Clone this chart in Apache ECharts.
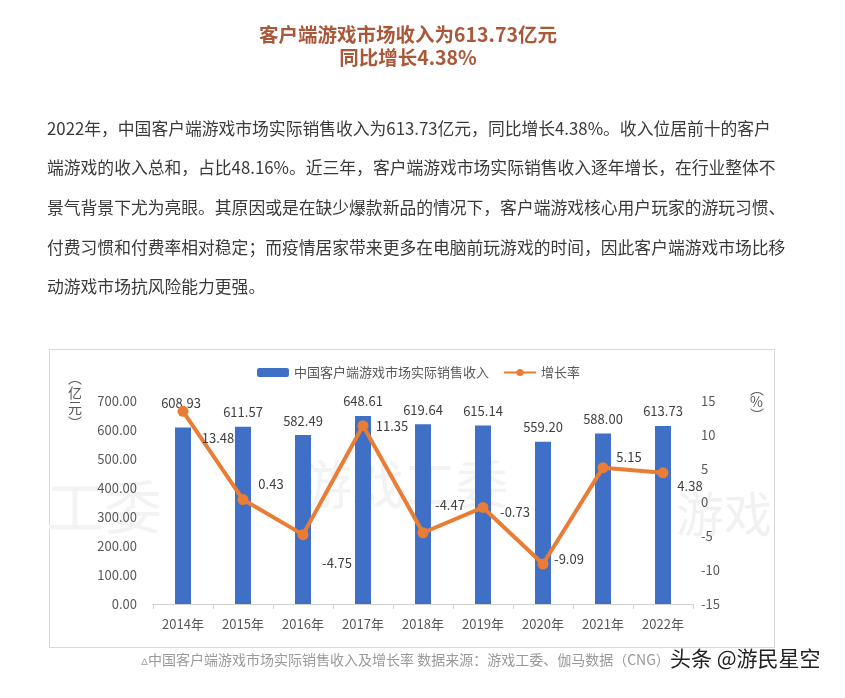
<!DOCTYPE html>
<html>
<head>
<meta charset="utf-8">
<script src="https://cdn.jsdelivr.net/npm/echarts@6/dist/echarts.min.js"></script>
<style>
  html, body { margin: 0; padding: 0; background: #fff; }
  #main { width: 845px; height: 698px; }
</style>
</head>
<body>
<div id="main"></div>
<script>
// data
const years = ['2014年', '2015年', '2016年', '2017年', '2018年', '2019年', '2020年', '2021年', '2022年']
const revenue = [608.93, 611.57, 582.49, 648.61, 619.64, 615.14, 559.20, 588.00, 613.73]
const growth = [13.48, 0.43, -4.75, 11.35, -4.47, -0.73, -9.09, 5.15, 4.38]
const leftTicks = [0, 100, 200, 300, 400, 500, 600, 700]
const rightTicks = [-15, -10, -5, 0, 5, 10, 15]

const titleLines = ['客户端游戏市场收入为613.73亿元', '同比增长4.38%']
const paragraph = [
  '2022年，中国客户端游戏市场实际销售收入为613.73亿元，同比增长4.38%。收入位居前十的客户',
  '端游戏的收入总和，占比48.16%。近三年，客户端游戏市场实际销售收入逐年增长，在行业整体不',
  '景气背景下尤为亮眼。其原因或是在缺少爆款新品的情况下，客户端游戏核心用户玩家的游玩习惯、',
  '付费习惯和付费率相对稳定；而疫情居家带来更多在电脑前玩游戏的时间，因此客户端游戏市场比移',
  '动游戏市场抗风险能力更强。'
]
const caption = '▵中国客户端游戏市场实际销售收入及增长率 数据来源：游戏工委、伽马数据（CNG）'
const signature = '头条 @游民星空'

// label offsets for the growth line (style only)
const rateLabelOffset = [[35, 27], [28, -16], [34, 28], [29, 0], [27, -28], [32, 5], [26, -5], [26, -11], [27, 13]]

const FONT = '"Noto Sans CJK SC", "Noto Sans", sans-serif'
const BLUE = '#3f70c6'
const ORANGE = '#ea7d35'

let graphics = []
titleLines.forEach((t, i) => {
  graphics.push({
    type: 'text', x: 408, y: 25 + i * 23,
    style: { text: t, font: 'bold 19.5px ' + FONT, fill: '#a9593a', textAlign: 'center' }
  })
})
paragraph.forEach((t, i) => {
  graphics.push({
    type: 'text', left: 47, top: 120 + i * 39.6,
    style: { text: t, font: '16.8px ' + FONT, fill: '#3a3a3a' }
  })
})
// chart frame
graphics.push({
  type: 'rect', left: 47, top: 347, z: 0,
  shape: { width: 725, height: 298 },
  style: { fill: 'none', stroke: '#d9d9d9', lineWidth: 1 }
})
// faint watermark
graphics.push(
  { type: 'text', left: 46, top: 478, z: 0, style: { text: '工委', font: '58px ' + FONT, fill: '#f3f3f3' } },
  { type: 'text', left: 300, top: 458, z: 0, style: { text: '游戏工委', font: '52px ' + FONT, fill: '#f3f3f3' } },
  { type: 'text', left: 676, top: 490, z: 0, style: { text: '游戏', font: '48px ' + FONT, fill: '#f1f1f1' } }
)
// axis unit labels
graphics.push(
  { type: 'text', left: 68, top: 370, style: { text: '︵\n亿\n元\n︶', font: '14px ' + FONT, fill: '#595959', lineHeight: 15 } },
  { type: 'text', left: 750, top: 382, style: { text: '︵\n%\n︶', font: '14px ' + FONT, fill: '#595959', lineHeight: 13 } }
)
graphics.push(
  { type: 'text', left: 141, top: 653, style: { text: caption, font: '14px ' + FONT, fill: '#9a9a9a' } },
  { type: 'text', left: 670, top: 648, style: { text: signature, font: '21px ' + FONT, fill: '#222' } }
)

const option = {
  animation: false,
  textStyle: { fontFamily: FONT },
  graphic: graphics,
  legend: {
    top: 361,
    left: 252,
    itemGap: 14,
    itemWidth: 32,
    itemHeight: 9,
    textStyle: { fontSize: 13, color: '#595959', fontFamily: FONT },
    data: ['中国客户端游戏市场实际销售收入', '增长率']
  },
  grid: { left: 153, right: 152, top: 401, bottom: 94 },
  xAxis: {
    type: 'category',
    data: years,
    axisLine: { lineStyle: { color: '#d0d0d0' } },
    axisTick: { show: true, lineStyle: { color: '#d0d0d0' } },
    axisLabel: { color: '#595959', fontSize: 13, margin: 14 }
  },
  yAxis: [
    {
      type: 'value', min: leftTicks[0], max: leftTicks[leftTicks.length - 1], interval: 100,
      axisLine: { show: false }, axisTick: { show: false }, splitLine: { show: false },
      axisLabel: { color: '#595959', fontSize: 13, margin: 16, formatter: v => v.toFixed(2) }
    },
    {
      type: 'value', min: rightTicks[0], max: rightTicks[rightTicks.length - 1], interval: 5,
      axisLine: { show: false }, axisTick: { show: false }, splitLine: { show: false },
      axisLabel: { color: '#595959', fontSize: 13, margin: 8 }
    }
  ],
  series: [
    {
      name: '中国客户端游戏市场实际销售收入',
      type: 'bar',
      barWidth: 16,
      itemStyle: { color: BLUE },
      label: {
        show: true, position: 'top', distance: 8, color: '#404040', fontSize: 13,
        formatter: p => p.value.toFixed(2)
      },
      data: revenue.map((v, i) => i === 0 ? { value: v, label: { offset: [-2, -10] } } : v)
    },
    {
      name: '增长率',
      type: 'line',
      yAxisIndex: 1,
      symbol: 'circle',
      symbolSize: 11,
      lineStyle: { color: ORANGE, width: 4 },
      itemStyle: { color: ORANGE },
      label: {
        show: true, position: 'inside', color: '#404040', fontSize: 13,
        formatter: p => p.value.toFixed(2)
      },
      data: growth.map((v, i) => ({ value: v, label: { offset: rateLabelOffset[i] } }))
    }
  ]
}

const chart = echarts.init(document.getElementById('main'))
chart.setOption(option)
</script>
</body>
</html>
